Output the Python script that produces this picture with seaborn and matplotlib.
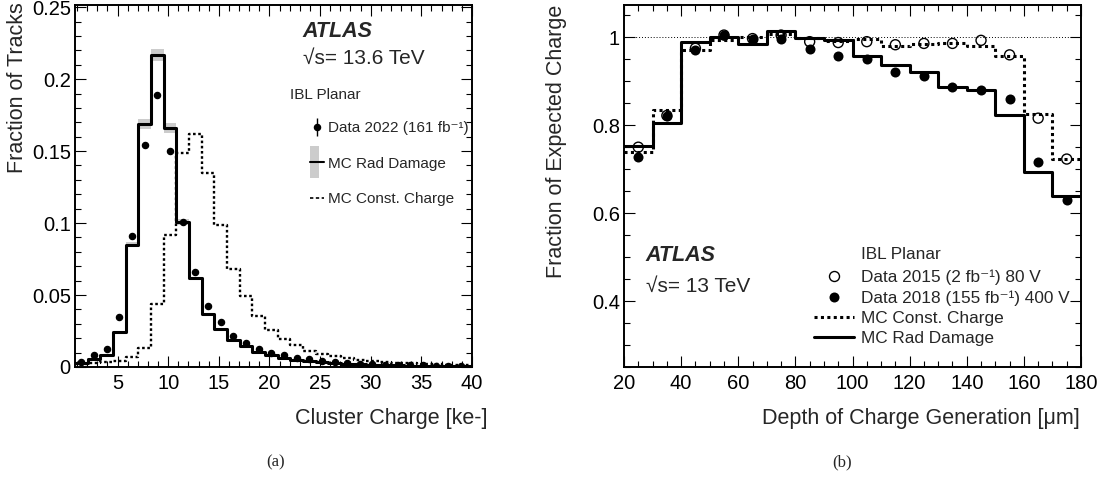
import numpy as np
import pandas as pd
import matplotlib
matplotlib.use("Agg")
import matplotlib.pyplot as plt
import seaborn as sns
from matplotlib.lines import Line2D
from matplotlib.patches import Rectangle
from matplotlib.container import ErrorbarContainer
from matplotlib.legend_handler import HandlerTuple, HandlerPatch, HandlerErrorbar
from matplotlib.ticker import MultipleLocator, FormatStrFormatter

# ---------------- data, panel (a): cluster charge ----------------
# 32 bins of 1.25 ke starting at 0.8 ke
charge_start = 0.8
charge_width = 1.25
rad_damage_a = [0.0030, 0.0053, 0.0081, 0.0240, 0.0850, 0.1690, 0.2167, 0.1660,
                0.1010, 0.0615, 0.0370, 0.0262, 0.0185, 0.0143, 0.0105, 0.0085,
                0.0065, 0.0051, 0.0042, 0.0035, 0.0028, 0.0023, 0.0018, 0.0016,
                0.0014, 0.0012, 0.0010, 0.0009, 0.0008, 0.0007, 0.0006, 0.0005]
const_charge_a = [0.0020, 0.0030, 0.0035, 0.0043, 0.0070, 0.0135, 0.0435, 0.0914,
                  0.1485, 0.1620, 0.1350, 0.0990, 0.0680, 0.0490, 0.0355, 0.0258,
                  0.0192, 0.0150, 0.0111, 0.0092, 0.0076, 0.0060, 0.0051, 0.0044,
                  0.0037, 0.0030, 0.0025, 0.0020, 0.0018, 0.0016, 0.0014, 0.0012]
data_2022 = [0.0035, 0.0081, 0.0125, 0.0345, 0.0910, 0.1540, 0.1890, 0.1500,
             0.1010, 0.0660, 0.0425, 0.0310, 0.0218, 0.0168, 0.0125, 0.0099,
             0.0081, 0.0065, 0.0053, 0.0042, 0.0035, 0.0028, 0.0023, 0.0018,
             0.0016, 0.0014, 0.0012, 0.0011, 0.0010, 0.0009, 0.0008, 0.0007]
data_2022_err = 0.0005
rad_rel_unc = 0.02  # grey band around MC Rad Damage

# ---------------- data, panel (b): depth of charge generation ----------------
depth_start = 20
depth_width = 10
rad_damage_b = [0.753, 0.805, 0.989, 1.001, 0.984, 1.014, 0.998, 0.994,
                0.958, 0.938, 0.922, 0.886, 0.880, 0.823, 0.693, 0.639]
const_charge_b = [0.738, 0.835, 0.970, 0.994, 1.000, 1.008, 0.998, 0.991,
                  0.995, 0.981, 0.984, 0.988, 0.981, 0.958, 0.826, 0.724]
data_2015 = [0.750, 0.822, 0.975, 1.005, 0.997, 1.005, 0.990, 0.988,
             0.990, 0.983, 0.986, 0.986, 0.993, 0.960, 0.816, 0.723]
data_2018 = [0.727, 0.820, 0.971, 1.006, 0.996, 0.996, 0.973, 0.957,
             0.951, 0.920, 0.911, 0.887, 0.879, 0.860, 0.716, 0.630]

# bin edges / centres
edges_a = charge_start + charge_width * np.arange(len(rad_damage_a) + 1)
centres_a = 0.5 * (edges_a[:-1] + edges_a[1:])
edges_b = depth_start + depth_width * np.arange(len(rad_damage_b) + 1)
centres_b = 0.5 * (edges_b[:-1] + edges_b[1:])

df_a = pd.DataFrame({'charge': centres_a, 'rad': rad_damage_a,
                     'const': const_charge_a, 'data': data_2022})
df_b = pd.DataFrame({'depth': centres_b, 'rad': rad_damage_b,
                     'const': const_charge_b, 'd15': data_2015, 'd18': data_2018})

# ---------------- style ----------------
sns.set_style("ticks")
plt.rcParams['font.family'] = ['Liberation Sans', 'DejaVu Sans']

fig = plt.figure(figsize=(11.08, 4.82), dpi=100)
W, H = 1108, 482
ax1 = fig.add_axes([75 / W, 1 - 367 / H, 397 / W, 362 / H])
ax2 = fig.add_axes([624 / W, 1 - 367 / H, 457 / W, 362 / H])

band_col = '#cccccc'

# ---------------- panel (a) ----------------
ax1.stairs(df_a['rad'] * (1 + rad_rel_unc), edges_a,
           baseline=df_a['rad'] * (1 - rad_rel_unc),
           fill=True, color=band_col, lw=0, zorder=1)
sns.histplot(data=df_a, x='charge', weights='rad', bins=list(edges_a), element='step',
             fill=False, color='black', linewidth=2.2, ax=ax1, zorder=3)
sns.histplot(data=df_a, x='charge', weights='const', bins=list(edges_a), element='step',
             fill=False, color='black', linewidth=1.7, linestyle=(0, (1.1, 1.1)),
             ax=ax1, zorder=2)
data_h = ax1.errorbar(df_a['charge'], df_a['data'], yerr=data_2022_err, fmt='o',
                      color='black', ms=4.4, elinewidth=1, capsize=0, zorder=5)

ax1.set_xlim(charge_start, 40)
ax1.set_ylim(0, 0.2515)
ax1.xaxis.set_major_locator(MultipleLocator(5))
ax1.xaxis.set_minor_locator(MultipleLocator(1))
ax1.yaxis.set_major_locator(MultipleLocator(0.05))
ax1.yaxis.set_minor_locator(MultipleLocator(0.01))
ax1.yaxis.set_major_formatter(FormatStrFormatter('%g'))
ax1.set_xlabel('Cluster Charge [ke-]', fontsize=15.5, ha='right', va='center')
ax1.set_ylabel('Fraction of Tracks', fontsize=15.5, ha='right', va='center')
ax1.xaxis.set_label_coords(1.038, -0.141)
ax1.yaxis.set_label_coords(-0.145, 1.008)

ax1.text(0.574, 0.926, 'ATLAS', transform=ax1.transAxes, fontsize=15.5,
         fontweight='bold', fontstyle='italic', va='center')
ax1.text(0.574, 0.853, '\u221as= 13.6 TeV', transform=ax1.transAxes,
         fontsize=15, va='center')
ax1.text(0.542, 0.752, 'IBL Planar', transform=ax1.transAxes, fontsize=11,
         va='center')


def narrow_box(legend, orig_handle, xdescent, ydescent, width, height, fontsize):
    yc = (height - ydescent) / 2
    h = 2.1 * fontsize
    return Rectangle((-xdescent, yc - h / 2), 0.62 * width, h)


rad_h = (Rectangle((0, 0), 1, 1, facecolor=band_col, edgecolor='none'),
         Line2D([], [], color='black', lw=1.5))
const_h = Line2D([], [], color='black', lw=1.2, ls=(0, (2, 1.5)))
leg1 = ax1.legend([data_h, rad_h, const_h],
                  ['Data 2022 (161 fb\u207b\u00b9)', 'MC Rad Damage',
                   'MC Const. Charge'],
                  loc='upper left', bbox_to_anchor=(0.592, 0.679), frameon=False,
                  fontsize=11, borderpad=0, borderaxespad=0, handlelength=0.9,
                  handletextpad=0.3, labelspacing=1.4,
                  handler_map={Rectangle: HandlerPatch(patch_func=narrow_box),
                               tuple: HandlerTuple(ndivide=1, pad=0),
                               ErrorbarContainer: HandlerErrorbar(yerr_size=0.6)})

# ---------------- panel (b) ----------------
ax2.axhline(1.0, color='black', lw=0.7, ls=(0, (1, 2)), zorder=1)
sns.histplot(data=df_b, x='depth', weights='const', bins=list(edges_b), element='step',
             fill=False, color='black', linewidth=2.2, linestyle=(0, (1, 1.1)),
             ax=ax2, zorder=2)
sns.histplot(data=df_b, x='depth', weights='rad', bins=list(edges_b), element='step',
             fill=False, color='black', linewidth=2.2, ax=ax2, zorder=3)
sns.scatterplot(data=df_b, x='depth', y='d15', marker='o', s=52, facecolor='none',
                edgecolor='black', linewidth=1, ax=ax2, zorder=4)
sns.scatterplot(data=df_b, x='depth', y='d18', marker='o', s=52, color='black',
                edgecolor='black', linewidth=0, ax=ax2, zorder=5)

ax2.set_xlim(edges_b[0], edges_b[-1])
ax2.set_ylim(0.25, 1.0734)
ax2.xaxis.set_major_locator(MultipleLocator(20))
ax2.xaxis.set_minor_locator(MultipleLocator(5))
ax2.yaxis.set_major_locator(MultipleLocator(0.2))
ax2.yaxis.set_minor_locator(MultipleLocator(0.05))
ax2.yaxis.set_major_formatter(FormatStrFormatter('%g'))
ax2.set_xlabel('Depth of Charge Generation [\u03bcm]', fontsize=15.5,
               ha='right', va='center')
ax2.set_ylabel('Fraction of Expected Charge', fontsize=15.5, ha='right', va='center')
ax2.xaxis.set_label_coords(0.998, -0.141)
ax2.yaxis.set_label_coords(-0.147, 1.0)

ax2.text(0.046, 0.309, 'ATLAS', transform=ax2.transAxes, fontsize=15.5,
         fontweight='bold', fontstyle='italic', va='center')
ax2.text(0.048, 0.222, '\u221as= 13 TeV', transform=ax2.transAxes,
         fontsize=15, va='center')
ax2.text(0.519, 0.31, 'IBL Planar', transform=ax2.transAxes, fontsize=12.4,
         va='center')

h15 = Line2D([], [], ls='none', marker='o', ms=7.2, mfc='none', mec='black', mew=1)
h18 = Line2D([], [], ls='none', marker='o', ms=7.2, mfc='black', mec='black', mew=0)
hcc = Line2D([], [], color='black', lw=2.2, ls=(0, (1, 1.1)))
hrd = Line2D([], [], color='black', lw=2.2)
ax2.legend([h15, h18, hcc, hrd],
           ['Data 2015 (2 fb\u207b\u00b9) 80 V',
            'Data 2018 (155 fb\u207b\u00b9) 400 V',
            'MC Const. Charge', 'MC Rad Damage'],
           loc='upper left', bbox_to_anchor=(0.416, 0.268), frameon=False,
           fontsize=12.4, borderpad=0, borderaxespad=0, handlelength=2.3,
           handletextpad=0.45, labelspacing=0.28)

# ---------------- common axis cosmetics ----------------
for ax in (ax1, ax2):
    for sp in ax.spines.values():
        sp.set_linewidth(1.4)
        sp.set_color('black')
    ax.tick_params(which='both', direction='in', top=True, right=True,
                   width=0.8, colors='black', labelsize=14.5)
    ax.tick_params(which='major', length=8)
    ax.tick_params(which='minor', length=4)
    ax.tick_params(axis='x', pad=5)
    ax.tick_params(axis='y', pad=3)

fig.text(276 / W, 1 - 462 / H, '(a)', family='Liberation Serif', fontsize=12,
         ha='center', va='center')
fig.text(842 / W, 1 - 462 / H, '(b)', family='Liberation Serif', fontsize=12,
         ha='center', va='center')

fig.savefig('out.png', dpi=100)
